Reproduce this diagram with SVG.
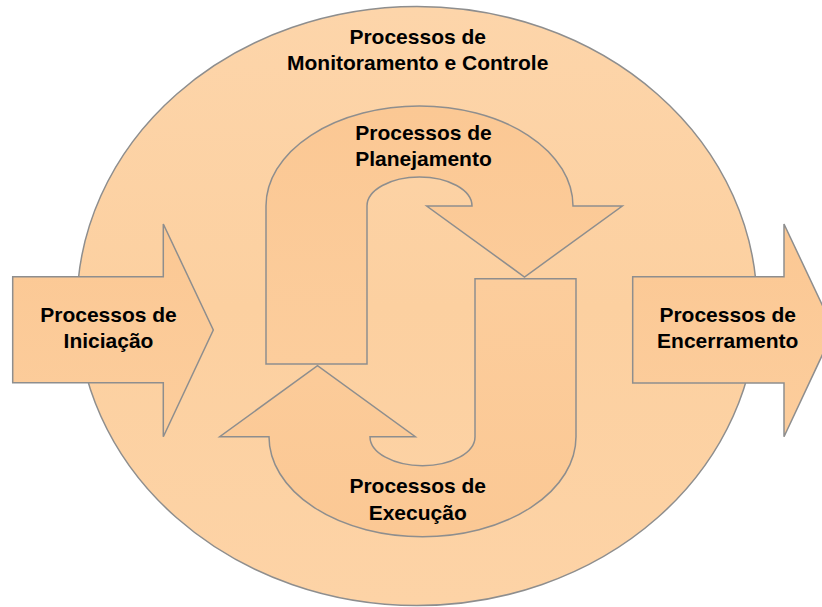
<svg xmlns="http://www.w3.org/2000/svg" width="822" height="607" viewBox="0 0 822 607">
  <defs>
    <linearGradient id="gEll" x1="0" y1="0" x2="0" y2="1">
      <stop offset="0" stop-color="#FDD5AA"/>
      <stop offset="0.5" stop-color="#FCD0A0"/>
      <stop offset="1" stop-color="#FDD3A6"/>
    </linearGradient>
    <linearGradient id="gArr" x1="0" y1="0" x2="0" y2="1">
      <stop offset="0" stop-color="#FBC894"/>
      <stop offset="1" stop-color="#FCCD9C"/>
    </linearGradient>
  </defs>
  <style>
    .shape { stroke: #8E8E8E; stroke-width: 1.5; stroke-linejoin: miter; }
    .ell { fill: url(#gEll); }
    .arr { fill: url(#gArr); }
    .lbl { font-family: "Liberation Sans", Arial, sans-serif; font-weight: bold; font-size: 21px; fill: #000; text-anchor: middle; }
  </style>
  <rect width="822" height="607" fill="#FFFFFF"/>

  <g id="monitoramento">
    <ellipse class="shape ell" cx="417" cy="306" rx="340" ry="299.5"/>
    <text class="lbl" x="417.7" y="44">Processos de</text>
    <text class="lbl" x="417.7" y="70">Monitoramento e Controle</text>
  </g>

  <g id="iniciacao">
    <polygon class="shape arr" points="12.7,276.7 163.3,276.7 163.3,224 213.3,330 163.3,436.7 163.3,382.7 12.7,382.7"/>
    <text class="lbl" x="108.5" y="321.7">Processos de</text>
    <text class="lbl" x="108.5" y="348">Iniciação</text>
  </g>

  <g id="encerramento">
    <polygon class="shape arr" points="632.7,276.7 784,276.7 784,224 834,330 784,436.7 784,383 632.7,383"/>
    <text class="lbl" x="727.7" y="321.7">Processos de</text>
    <text class="lbl" x="727.7" y="348">Encerramento</text>
  </g>

  <g id="planejamento">
    <path class="shape arr" d="M266,364 L266,206 A153.5,100 0 0 1 573,206 L622.3,206 L524.5,277 L426.7,206 L472,206 A52.5,29 0 0 0 367,206 L367,364 Z"/>
    <text class="lbl" x="423.5" y="140">Processos de</text>
    <text class="lbl" x="423.5" y="166">Planejamento</text>
  </g>

  <g id="execucao">
    <path class="shape arr" transform="rotate(180 421 321.35)" d="M266,364 L266,206 A153.5,100 0 0 1 573,206 L622.3,206 L524.5,277 L426.7,206 L472,206 A52.5,29 0 0 0 367,206 L367,364 Z"/>
    <text class="lbl" x="417.7" y="493.3">Processos de</text>
    <text class="lbl" x="417.7" y="519.5">Execução</text>
  </g>

  <g id="connectors"/>
</svg>
